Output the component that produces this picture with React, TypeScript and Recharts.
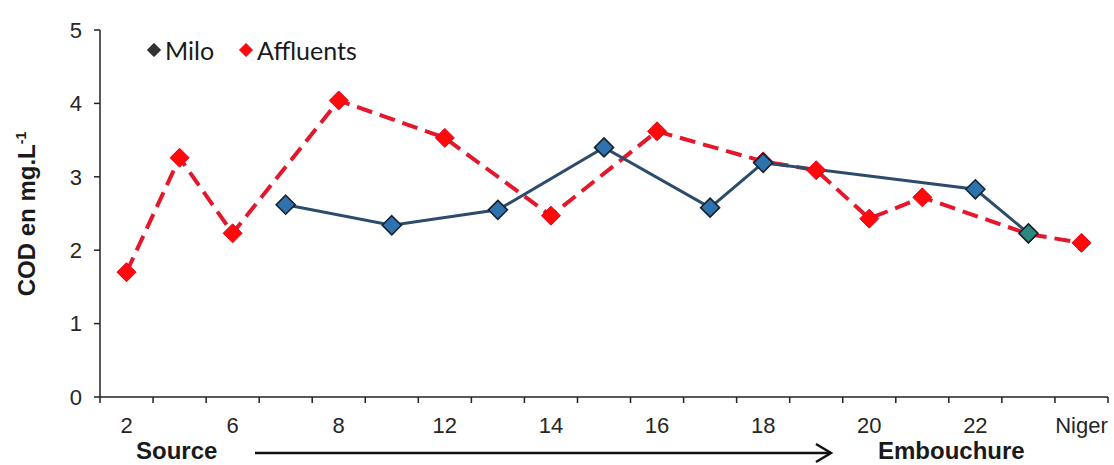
import { Legend, Line, LineChart, XAxis, YAxis } from 'recharts';

// sampling points along the river, only every other one is labelled on the axis
const categories = ['2', '4', '6', '7', '8', '10', '12', '13', '14', '15', '16', '17', '18', '19', '20', '21', '22', '23', 'Niger'];
const shownLabels = ['2', '6', '8', '12', '14', '16', '18', '20', '22', 'Niger'];
const miloValues = [null, null, null, 2.62, null, 2.34, null, 2.55, null, 3.4, null, 2.58, 3.19, null, null, null, 2.83, 2.23, null];
const affluentsValues = [1.7, 3.26, 2.23, null, 4.04, null, 3.53, null, 2.47, null, 3.62, null, 3.21, 3.09, 2.43, 2.72, null, 2.22, 2.1];
const yTicks = [0, 1, 2, 3, 4, 5];

const W = 1114;
const H = 465;
const PLOT_LEFT = 100;
const PLOT_RIGHT = 1108;
const PLOT_TOP = 30;
const PLOT_BOTTOM = 397;
const STEP = (PLOT_RIGHT - PLOT_LEFT) / categories.length;

const data = categories.map((name, i) => ({
  name,
  milo: miloValues[i],
  affluents: affluentsValues[i],
}));

const MILO_LINE = '#2d4c6c';
const MILO_FILL = '#2e72ae';
const AFF_LINE = '#e3182c';
const AFF_FILL = '#ff0a0a';

const diamond = (cx: number, cy: number, r: number) =>
  `M${cx},${cy - r} L${cx + r},${cy} L${cx},${cy + r} L${cx - r},${cy} Z`;

const MiloDot = (props: any) => {
  const { cx, cy, index } = props;
  if (cx == null || cy == null || miloValues[index] == null) return <g key={`m${index}`} />;
  const fill = index === categories.length - 2 ? '#2a8a7e' : MILO_FILL;
  return <path key={`m${index}`} d={diamond(cx, cy, 9.5)} fill={fill} stroke="#15222f" strokeWidth={1.6} />;
};

const AffDot = (props: any) => {
  const { cx, cy, index } = props;
  if (cx == null || cy == null || affluentsValues[index] == null) return <g key={`a${index}`} />;
  return <path key={`a${index}`} d={diamond(cx, cy, 9.5)} fill={AFF_FILL} stroke="#e8001a" strokeWidth={1} />;
};

const XTick = (props: any) => {
  const { x, index, payload } = props;
  const label = String(payload.value);
  const last = index === categories.length - 1;
  return (
    <g>
      <line x1={x - STEP / 2} x2={x - STEP / 2} y1={PLOT_BOTTOM} y2={PLOT_BOTTOM + 6} stroke="#222" strokeWidth={1.5} />
      {last && <line x1={x + STEP / 2} x2={x + STEP / 2} y1={PLOT_BOTTOM} y2={PLOT_BOTTOM + 6} stroke="#222" strokeWidth={1.5} />}
      {shownLabels.includes(label) && (
        <text x={x} y={PLOT_BOTTOM + 36} textAnchor="middle" fontSize={22} fill="#262626" fontFamily="'Liberation Sans', Arial, sans-serif">
          {label}
        </text>
      )}
    </g>
  );
};

const LegendContent = () => (
  <div style={{ display: 'flex', alignItems: 'center', fontFamily: "Lato, 'Open Sans', sans-serif", fontSize: 25, color: '#1a1a1a', whiteSpace: 'nowrap' }}>
    <svg width={16} height={16} style={{ marginRight: 3 }}>
      <path d={diamond(8, 8, 6.5)} fill="#333" stroke="#111" strokeWidth={1} />
    </svg>
    <span style={{ marginRight: 24 }}>Milo</span>
    <svg width={16} height={16} style={{ marginRight: 3 }}>
      <path d={diamond(8, 8, 6.5)} fill={AFF_FILL} stroke="#e8001a" strokeWidth={1} />
    </svg>
    <span>Affluents</span>
  </div>
);

export default function App() {
  return (
    <div style={{ position: 'absolute', left: 0, top: 0, width: W, height: H, background: '#fff' }}>
      <LineChart
        width={W}
        height={H}
        data={data}
        margin={{ top: PLOT_TOP, right: W - PLOT_RIGHT, left: 0, bottom: 0 }}
      >
        <XAxis
          dataKey="name"
          interval={0}
          height={H - PLOT_BOTTOM}
          padding={{ left: STEP / 2, right: STEP / 2 }}
          tickLine={false}
          tick={<XTick />}
          axisLine={{ stroke: '#222', strokeWidth: 1.5 }}
        />
        <YAxis
          width={PLOT_LEFT}
          domain={[0, 5]}
          ticks={yTicks}
          tickSize={6}
          tickMargin={12}
          tick={{ fontSize: 22, fill: '#262626', fontFamily: "'Liberation Sans', Arial, sans-serif" }}
          tickLine={{ stroke: '#222', strokeWidth: 1.5 }}
          axisLine={{ stroke: '#222', strokeWidth: 1.5 }}
        />
        <Legend
          layout="horizontal"
          verticalAlign="middle"
          align="center"
          content={<LegendContent />}
          wrapperStyle={{ top: 35, left: 146, width: 'auto' }}
        />
        <Line
          type="linear"
          dataKey="affluents"
          name="Affluents"
          stroke={AFF_LINE}
          strokeWidth={4}
          strokeDasharray="16 8"
          dot={<AffDot />}
          connectNulls
          isAnimationActive={false}
        />
        <Line
          type="linear"
          dataKey="milo"
          name="Milo"
          stroke={MILO_LINE}
          strokeWidth={3}
          dot={<MiloDot />}
          connectNulls
          isAnimationActive={false}
        />
      </LineChart>
      <svg width={W} height={H} style={{ position: 'absolute', left: 0, top: 0, pointerEvents: 'none' }}>
        <text
          x={35}
          y={214}
          transform="rotate(-90, 35, 214)"
          textAnchor="middle"
          fontSize={24}
          fontWeight="bold"
          fill="#1a1a1a"
          fontFamily="'Liberation Sans', Arial, sans-serif"
        >
          COD en mg.L<tspan fontSize={14} dy={-9}>-1</tspan>
        </text>
        <g fontFamily="'Liberation Sans', Arial, sans-serif" fontWeight="bold" fontSize={24} fill="#1a1a1a">
          <text x={136} y={459}>Source</text>
          <text x={878} y={459}>Embouchure</text>
        </g>
        <line x1={255} x2={830} y1={453} y2={453} stroke="#111" strokeWidth={2.5} />
        <polyline points="816,444 831,453 816,462" fill="none" stroke="#111" strokeWidth={2.5} />
      </svg>
    </div>
  );
}
